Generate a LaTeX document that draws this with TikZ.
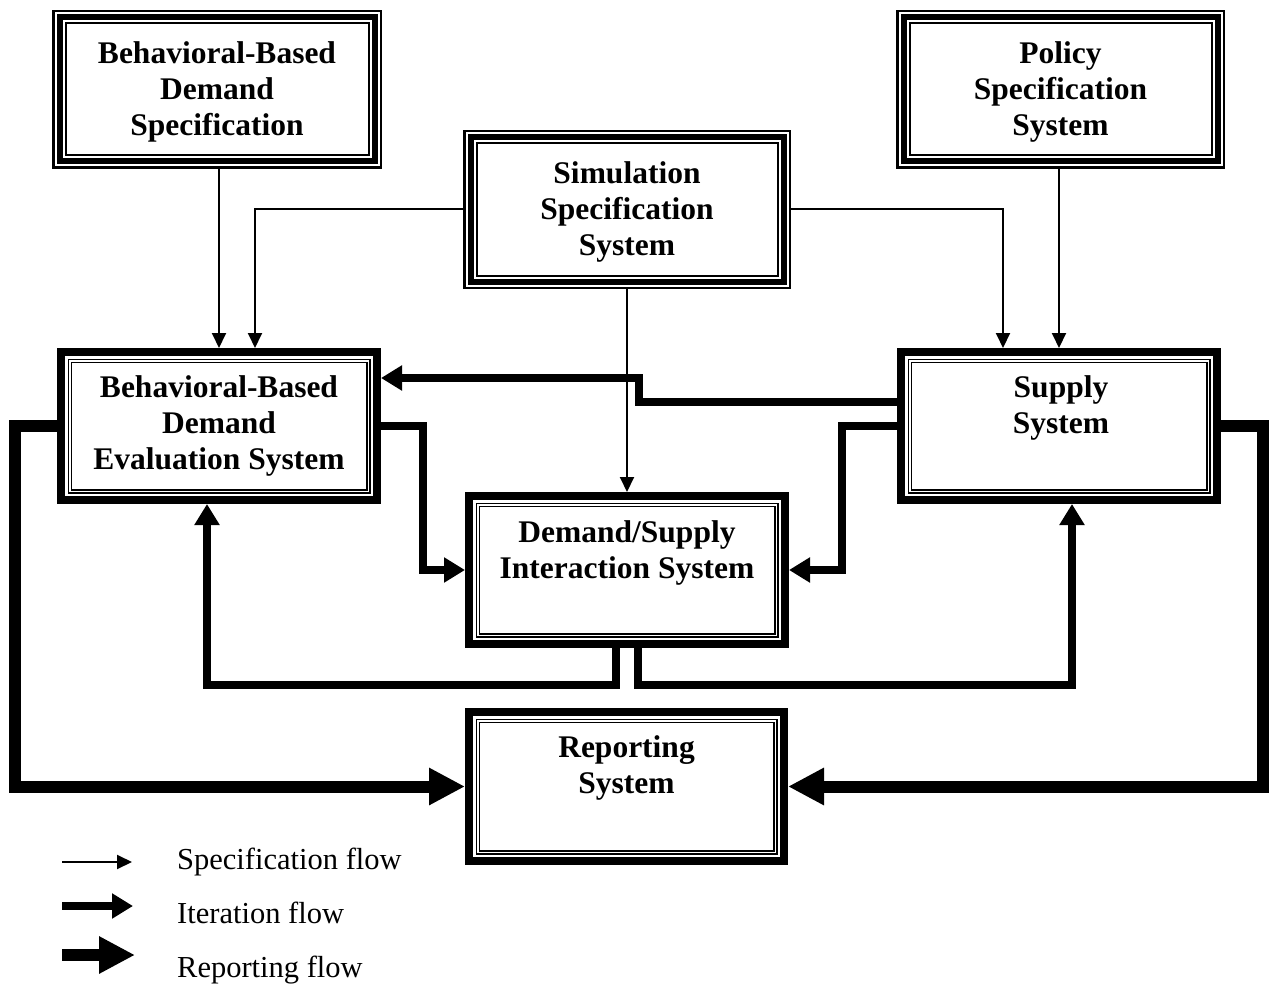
\documentclass[tikz,border=0pt]{standalone}
\usepackage{fontspec}
\setmainfont{Liberation Serif}
\usetikzlibrary{arrows.meta}
\newcommand\frameat[2]{\draw[line width=#2pt] ([shift={(#1pt,-#1pt)}]path picture bounding box.north west) rectangle ([shift={(-#1pt,#1pt)}]path picture bounding box.south east);}
\tikzset{
  frame/.style={rectangle, inner sep=0pt, outer sep=0pt},
  tribox/.style={frame, path picture={\frameat{1.25}{2.5}\frameat{7.5}{6}\frameat{13.5}{2}}},
  dblbox/.style={frame, path picture={\frameat{4}{8}\frameat{11.25}{1.5}\frameat{14.25}{1.5}}},
  boxtext/.style={font=\fontsize{31.5}{36}\selectfont\bfseries, align=center, inner sep=0pt},
  legtext/.style={font=\fontsize{30.5}{36}\selectfont, anchor=base west, inner sep=0pt},
  spec/.style={line width=2pt, -{Triangle[length=15pt,width=14pt]}},
  iter/.style={line width=7.5pt, -{Triangle[length=21pt,width=24pt]}},
  rept/.style={line width=12pt, -{Triangle[length=36pt,width=35pt]}},
}
\begin{document}
\begin{tikzpicture}[x=1pt,y=-1pt]
\fill[white] (0,0) rectangle (1272,987);
\useasboundingbox (0,0) rectangle (1272,987);

% boxes
\node[tribox, minimum width=330pt, minimum height=159pt] (bbds) at (217,89.5) {};
\node[boxtext] (bbdsT) at (217,92) {Behavioral-Based\\Demand\\Specification};
\node[tribox, minimum width=329pt, minimum height=159pt] (pol) at (1060.5,89.5) {};
\node[boxtext] (polT) at (1060.5,92) {Policy\\Specification\\System};
\node[tribox, minimum width=328pt, minimum height=159pt] (sim) at (627,209.5) {};
\node[boxtext] (simT) at (627,212) {Simulation\\Specification\\System};
\node[dblbox, minimum width=324pt, minimum height=156pt] (bbdes) at (219,426) {};
\node[boxtext] (bbdesT) at (219,426) {Behavioral-Based\\Demand\\Evaluation System};
\node[dblbox, minimum width=324pt, minimum height=156pt] (sup) at (1059,426) {};
\node[boxtext] (supT) at (1061,408) {Supply\\System};
\node[dblbox, minimum width=324pt, minimum height=156pt] (ds) at (627,570) {};
\node[boxtext] (dsT) at (627,552.5) {Demand/Supply\\Interaction System};
\node[dblbox, minimum width=323pt, minimum height=157pt] (rep) at (626.5,786.5) {};
\node[boxtext] (repT) at (626.5,767.5) {Reporting\\System};

% specification flows
\draw[spec] (bbdes.north |- bbds.south) -- (bbdes.north);
\draw[spec] (sim.west) -| ([xshift=36pt]bbdes.north);
\draw[spec] (sim.east) -| ([xshift=-56pt]sup.north);
\draw[spec] (sup.north |- pol.south) -- (sup.north);

% iteration flows
\draw[iter] ([yshift=24pt]sup.west) -- ++(-258pt,0) |- ([yshift=48pt]bbdes.east);
\draw[iter] (bbdes.east) -- ++(42pt,0) |- (ds.west);
\draw[iter] (sup.west) -- ++(-55pt,0) |- (ds.east);
\draw[iter] ([xshift=-11pt]ds.south) -- ++(0,-37pt) -| ([xshift=-12pt]bbdes.south);
\draw[iter] ([xshift=11pt]ds.south) -- ++(0,-37pt) -| ([xshift=13pt]sup.south);
\draw[spec] (sim.south) -- (ds.north);

% reporting flows
\draw[rept] (bbdes.west) -- ++(-42pt,0) |- (rep.west);
\draw[rept] (sup.east) -- ++(42pt,0) |- (rep.east);

% legend
\coordinate (l1a) at (62,862); \coordinate (l1b) at (132,862);
\coordinate (l2a) at (62,906); \coordinate (l2b) at (133,906);
\coordinate (l3a) at (62,955); \coordinate (l3b) at (135,955);
\draw[spec] (l1a) -- (l1b);
\draw[iter] (l2a) -- (l2b);
\draw[rept] (l3a) -- (l3b);
\node[legtext] (l1t) at (177,869) {Specification flow};
\node[legtext] (l2t) at (177,923) {Iteration flow};
\node[legtext] (l3t) at (177,977) {Reporting flow};
\end{tikzpicture}
\end{document}
